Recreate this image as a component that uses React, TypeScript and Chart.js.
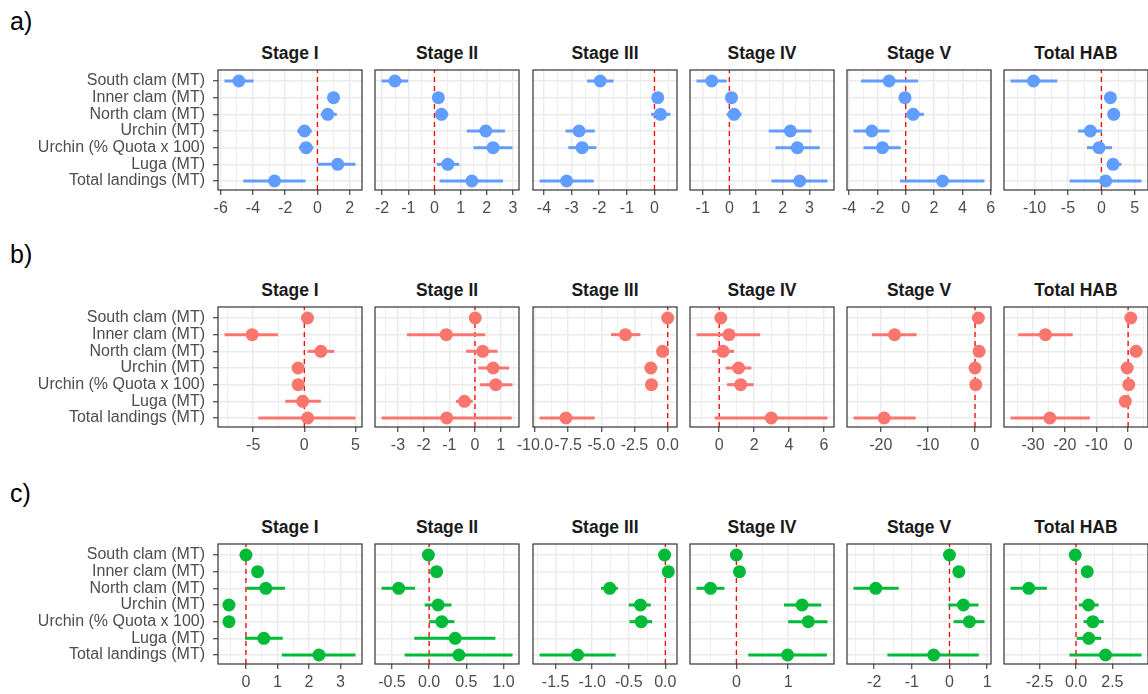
import React, { useEffect, useRef } from 'react';
import { Chart, registerables } from 'chart.js';

Chart.register(...registerables);

// ---------- data ----------
const categories = [
  'South clam (MT)',
  'Inner clam (MT)',
  'North clam (MT)',
  'Urchin (MT)',
  'Urchin (% Quota x 100)',
  'Luga (MT)',
  'Total landings (MT)',
];
const stages = ['Stage I', 'Stage II', 'Stage III', 'Stage IV', 'Stage V', 'Total HAB'];
const panelLabels = ['a)', 'b)', 'c)'];
const seriesColors = ['#619CFF', '#F8766D', '#00BA38'];

// a) one inner array per stage, one value per category
const estA = [
  [-4.87, 1.0, 0.64, -0.8, -0.7, 1.26, -2.66],
  [-1.51, 0.15, 0.27, 1.96, 2.24, 0.51, 1.43],
  [-1.96, 0.12, 0.22, -2.73, -2.62, null, -3.18],
  [-0.66, 0.08, 0.18, 2.29, 2.55, null, 2.64],
  [-1.17, -0.05, 0.53, -2.39, -1.64, null, 2.6],
  [-10.16, 1.35, 1.85, -1.65, -0.35, 1.75, 0.65],
];
const loA = [
  [-5.76, 0.7, 0.2, -1.25, -1.15, 0.0, -4.6],
  [-2.02, 0.0, 0.05, 1.24, 1.49, 0.09, 0.2],
  [-2.44, -0.05, -0.12, -3.22, -3.12, null, -4.16],
  [-1.23, -0.05, -0.1, 1.48, 1.73, null, 1.58],
  [-3.16, -0.3, 0.0, -3.68, -2.98, null, -0.4],
  [-13.6, 0.7, 1.2, -3.5, -2.15, 1.0, -4.75],
];
const hiA = [
  [-3.96, 1.3, 1.2, -0.35, -0.25, 2.36, -0.74],
  [-1.0, 0.3, 0.53, 2.69, 2.98, 0.95, 2.62],
  [-1.48, 0.28, 0.58, -2.16, -2.1, null, -2.2],
  [-0.1, 0.22, 0.46, 3.08, 3.39, null, 3.68],
  [0.88, 0.2, 1.28, -1.15, -0.35, null, 5.56],
  [-6.6, 2.0, 2.5, 0.1, 1.6, 3.0, 6.0],
];

// b)
const estB = [
  [0.31, -5.1, 1.62, -0.61, -0.6, -0.16, 0.33],
  [0.01, -1.12, 0.3, 0.71, 0.81, -0.41, -1.1],
  [0.0, -3.18, -0.38, -1.27, -1.22, null, -7.66],
  [0.09, 0.56, 0.22, 1.11, 1.23, null, 2.98],
  [0.7, -17.1, 0.85, 0.0, 0.15, null, -19.3],
  [0.85, -26.1, 2.5, -0.3, 0.2, -0.9, -24.7],
];
const loB = [
  [0.0, -7.8, 0.31, -0.9, -0.9, -1.87, -4.5],
  [-0.15, -2.65, -0.35, 0.13, 0.19, -0.74, -3.64],
  [-0.2, -4.27, -0.6, -1.5, -1.45, null, -9.65],
  [-0.1, -1.3, -0.41, 0.37, 0.45, null, -0.26],
  [0.0, -21.9, -0.3, -0.6, -0.5, null, -25.8],
  [-0.5, -34.7, 0.8, -1.5, -1.0, -2.0, -37.1],
];
const hiB = [
  [0.6, -2.58, 2.93, -0.3, -0.3, 1.62, 5.0],
  [0.17, 0.4, 0.88, 1.33, 1.46, -0.09, 1.43],
  [0.21, -2.06, -0.16, -1.04, -1.0, null, -5.5],
  [0.28, 2.35, 0.85, 1.84, 1.97, null, 6.2],
  [1.4, -12.4, 2.0, 0.6, 0.8, null, -12.6],
  [2.2, -17.5, 4.2, 0.9, 1.4, 0.2, -12.1],
];

// c)
const estC = [
  [0.0, 0.37, 0.63, -0.54, -0.54, 0.57, 2.32],
  [-0.01, 0.1, -0.41, 0.12, 0.17, 0.35, 0.4],
  [-0.01, 0.04, -0.76, -0.34, -0.33, null, -1.2],
  [0.0, 0.06, -0.5, 1.27, 1.39, null, 0.99],
  [0.0, 0.25, -1.96, 0.37, 0.53, null, -0.42],
  [-0.05, 0.77, -3.25, 0.86, 1.16, 0.88, 2.03],
];
const loC = [
  [-0.1, 0.27, 0.02, -0.68, -0.67, -0.03, 1.14],
  [-0.05, 0.05, -0.64, -0.06, 0.0, -0.2, -0.33],
  [-0.04, 0.0, -0.88, -0.5, -0.49, null, -1.72],
  [-0.04, 0.02, -0.77, 0.92, 1.0, null, 0.23],
  [-0.06, 0.19, -2.55, -0.03, 0.11, null, -1.65],
  [-0.2, 0.6, -4.5, 0.19, 0.52, 0.05, -0.45],
];
const hiC = [
  [0.1, 0.47, 1.24, -0.4, -0.41, 1.17, 3.48],
  [0.03, 0.15, -0.19, 0.3, 0.34, 0.89, 1.12],
  [0.02, 0.07, -0.65, -0.2, -0.18, null, -0.68],
  [0.04, 0.1, -0.23, 1.64, 1.76, null, 1.75],
  [0.06, 0.31, -1.35, 0.77, 0.93, null, 0.78],
  [0.1, 0.95, -2.0, 1.55, 1.9, 1.73, 4.5],
];

// x tick labels per panel
const tickLabelsA = [
  ['-6', '-4', '-2', '0', '2'],
  ['-2', '-1', '0', '1', '2', '3'],
  ['-4', '-3', '-2', '-1', '0'],
  ['-1', '0', '1', '2', '3'],
  ['-4', '-2', '0', '2', '4', '6'],
  ['-10', '-5', '0', '5'],
];
const tickLabelsB = [
  ['-5', '0', '5'],
  ['-3', '-2', '-1', '0', '1'],
  ['-10.0', '-7.5', '-5.0', '-2.5', '0.0'],
  ['0', '2', '4', '6'],
  ['-20', '-10', '0'],
  ['-30', '-20', '-10', '0'],
];
const tickLabelsC = [
  ['0', '1', '2', '3'],
  ['-0.5', '0.0', '0.5', '1.0'],
  ['-1.5', '-1.0', '-0.5', '0.0'],
  ['0', '1'],
  ['-2', '-1', '0', '1'],
  ['-2.5', '0.0', '2.5'],
];

const EST = [estA, estB, estC];
const LO = [loA, loB, loC];
const HI = [hiA, hiB, hiC];
const TICKS = [tickLabelsA, tickLabelsB, tickLabelsC];

// ---------- layout ----------
const PANEL_LEFTS = [218, 375, 533, 690, 847, 1004];
const PANEL_TOPS = [70, 307, 544];
const PANEL_W = 144;
const PANEL_H = 120;
const LABEL_TOPS = [8.5, 242, 481];
const FONT = "'Liberation Sans', Arial, Helvetica, sans-serif";

type XT = { value: number; label: string; minor: boolean };

function Panel({ row, col }: { row: number; col: number }) {
  const ref = useRef<HTMLCanvasElement>(null);
  const L = col === 0 ? PANEL_LEFTS[0] : 24;
  const R = 24;
  const T = 4;
  const B = 34;
  const W = L + PANEL_W + R;
  const H = T + PANEL_H + B;

  useEffect(() => {
    if (!ref.current) return;
    const est = EST[row][col];
    const lo = LO[row][col];
    const hi = HI[row][col];
    const labels = TICKS[row][col];
    const color = seriesColors[row];
    const majors = labels.map((s) => parseFloat(s));

    let dmin = 0;
    let dmax = 0;
    est.forEach((v, i) => {
      if (v == null) return;
      dmin = Math.min(dmin, lo[i] as number);
      dmax = Math.max(dmax, hi[i] as number);
    });
    const pad = (dmax - dmin) * 0.05;
    const xmin = dmin - pad;
    const xmax = dmax + pad;
    const step = majors.length > 1 ? majors[1] - majors[0] : 1;
    const xt: XT[] = [];
    majors.forEach((v, i) => {
      if (v >= xmin && v <= xmax) xt.push({ value: v, label: labels[i], minor: false });
    });
    for (let k = -1; k < majors.length; k++) {
      const v = majors[0] + (k + 0.5) * step;
      if (v > xmin && v < xmax) xt.push({ value: v, label: '', minor: true });
    }
    xt.sort((a, b) => a.value - b.value);

    const points = est
      .map((v, i) => (v == null ? null : { x: v, y: i }))
      .filter((p) => p !== null) as { x: number; y: number }[];

    const overlay = {
      id: 'overlay' + row + '_' + col,
      beforeDatasetsDraw(chart: any) {
        const { ctx, chartArea } = chart;
        const xs = chart.scales.x;
        const ys = chart.scales.y;
        ctx.save();
        ctx.beginPath();
        ctx.rect(chartArea.left, chartArea.top, chartArea.right - chartArea.left, chartArea.bottom - chartArea.top);
        ctx.clip();
        // reference line at zero
        const x0 = xs.getPixelForValue(0);
        ctx.strokeStyle = '#FF0000';
        ctx.lineWidth = 1.3;
        ctx.setLineDash([5, 4]);
        ctx.beginPath();
        ctx.moveTo(x0, chartArea.bottom);
        ctx.lineTo(x0, chartArea.top);
        ctx.stroke();
        ctx.setLineDash([]);
        // interval bars
        ctx.strokeStyle = color;
        ctx.lineWidth = 3;
        ctx.lineCap = 'butt';
        est.forEach((v, i) => {
          if (v == null) return;
          const py = ys.getPixelForValue(i);
          ctx.beginPath();
          ctx.moveTo(xs.getPixelForValue(lo[i] as number), py);
          ctx.lineTo(xs.getPixelForValue(hi[i] as number), py);
          ctx.stroke();
        });
        ctx.restore();
      },
      afterDraw(chart: any) {
        const { ctx, chartArea } = chart;
        ctx.save();
        ctx.strokeStyle = '#333333';
        ctx.lineWidth = 1.2;
        ctx.strokeRect(chartArea.left, chartArea.top, chartArea.right - chartArea.left, chartArea.bottom - chartArea.top);
        ctx.restore();
      },
    };

    const chart = new Chart(ref.current, {
      type: 'scatter',
      data: {
        datasets: [
          {
            data: points,
            backgroundColor: color,
            borderColor: color,
            borderWidth: 0,
            pointRadius: 6.5,
            pointHoverRadius: 6.5,
            clip: false as any,
          },
        ],
      },
      options: {
        animation: false,
        responsive: false,
        devicePixelRatio: 1,
        events: [],
        layout: { padding: { left: 0, right: R, top: T, bottom: 0 }, autoPadding: false } as any,
        plugins: {
          legend: { display: false },
          tooltip: { enabled: false },
          title: { display: false },
        },
        scales: {
          x: {
            type: 'linear',
            position: 'bottom',
            min: xmin,
            max: xmax,
            bounds: 'data',
            afterBuildTicks: (s: any) => {
              s.ticks = xt.map((t) => ({ value: t.value }));
            },
            afterFit: (s: any) => {
              s.height = B;
              s.paddingLeft = 0;
              s.paddingRight = 0;
            },
            ticks: {
              autoSkip: false,
              maxRotation: 0,
              minRotation: 0,
              padding: 4,
              color: '#4D4D4D',
              font: { family: FONT, size: 16 },
              callback: (_v: any, i: number) => (xt[i] ? xt[i].label : ''),
            },
            grid: {
              color: '#EBEBEB',
              lineWidth: (c: any) => (xt[c.index] && xt[c.index].minor ? 0.75 : 1.5),
              drawTicks: true,
              tickLength: 5,
              tickWidth: 1.1,
              tickColor: (c: any) => (xt[c.index] && xt[c.index].minor ? 'rgba(0,0,0,0)' : '#333333'),
            },
            border: { display: false },
          } as any,
          y: {
            type: 'linear',
            min: -0.66,
            max: 6.54,
            reverse: true,
            bounds: 'data',
            afterBuildTicks: (s: any) => {
              s.ticks = categories.map((_c, i) => ({ value: i }));
            },
            afterFit: (s: any) => {
              s.width = L;
              s.paddingTop = 0;
              s.paddingBottom = 0;
            },
            ticks: {
              display: col === 0,
              autoSkip: false,
              padding: 8,
              color: '#4D4D4D',
              font: { family: FONT, size: 16 },
              callback: (v: any) => categories[Math.round(Number(v))] ?? '',
            },
            grid: {
              color: '#EBEBEB',
              lineWidth: 1.5,
              drawTicks: col === 0,
              tickLength: 5,
              tickWidth: 1.1,
              tickColor: '#333333',
            },
            border: { display: false },
          } as any,
        },
      },
      plugins: [overlay],
    });
    return () => chart.destroy();
  }, [row, col]);

  return (
    <canvas
      ref={ref}
      width={W}
      height={H}
      style={{
        position: 'absolute',
        left: PANEL_LEFTS[col] - L,
        top: PANEL_TOPS[row] - T,
        width: W,
        height: H,
      }}
    />
  );
}

export default function App() {
  return (
    <div
      style={{
        position: 'absolute',
        left: 0,
        top: 0,
        width: 1148,
        height: 694,
        overflow: 'hidden',
        background: '#ffffff',
        fontFamily: FONT,
      }}
    >
      {panelLabels.map((lab, r) => (
        <div
          key={lab}
          style={{
            position: 'absolute',
            left: 10,
            top: LABEL_TOPS[r],
            fontSize: 25,
            lineHeight: '25px',
            color: '#000000',
          }}
        >
          {lab}
        </div>
      ))}
      {panelLabels.map((_lab, r) =>
        stages.map((st, c) => (
          <div
            key={'t' + r + '_' + c}
            style={{
              position: 'absolute',
              left: PANEL_LEFTS[c],
              top: PANEL_TOPS[r] - 25.5,
              width: PANEL_W,
              textAlign: 'center',
              fontSize: 17.5,
              fontWeight: 'bold',
              lineHeight: '17.5px',
              color: '#1A1A1A',
              whiteSpace: 'nowrap',
            }}
          >
            {st}
          </div>
        ))
      )}
      {panelLabels.map((_lab, r) =>
        stages.map((_st, c) => <Panel key={'p' + r + '_' + c} row={r} col={c} />)
      )}
    </div>
  );
}
